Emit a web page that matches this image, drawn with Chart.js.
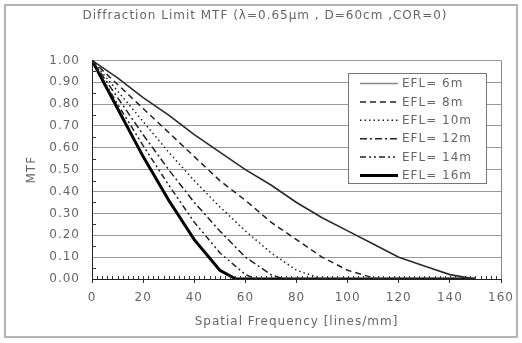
<!DOCTYPE html>
<html>
<head>
<meta charset="utf-8">
<script src="https://cdn.jsdelivr.net/npm/chart.js@4/dist/chart.umd.min.js"></script>
<style>
  html, body { margin: 0; padding: 0; background: #fff; }
  #wrap { width: 522px; height: 343px; }
</style>
</head>
<body>
<div id="wrap"><canvas id="mtfChart" width="522" height="343"></canvas></div>
<script>
// values, MTF vs spatial frequency (lines/mm)
const labels = ["EFL= 6m", "EFL= 8m", "EFL= 10m", "EFL= 12m", "EFL= 14m", "EFL= 16m"];

const freq6 = [0, 10, 20, 30, 40, 50, 60, 70, 80, 90, 100, 110, 120, 130, 140, 150];
const mtf6 = [1, 0.92, 0.83, 0.75, 0.66, 0.58, 0.50, 0.43, 0.35, 0.28, 0.22, 0.16, 0.10, 0.06, 0.02, 0];

const freq8 = [0, 10, 20, 30, 40, 50, 60, 70, 80, 90, 100, 110, 112.5, 150];
const mtf8 = [1, 0.89, 0.78, 0.67, 0.56, 0.45, 0.36, 0.26, 0.18, 0.10, 0.04, 0.005, 0, 0];

const freq10 = [0, 10, 20, 30, 40, 50, 60, 70, 80, 90, 150];
const mtf10 = [1, 0.86, 0.72, 0.58, 0.45, 0.33, 0.22, 0.12, 0.04, 0, 0];

const freq12 = [0, 10, 20, 30, 40, 50, 60, 70, 75, 150];
const mtf12 = [1, 0.83, 0.66, 0.50, 0.35, 0.22, 0.10, 0.02, 0, 0];

const freq14 = [0, 10, 20, 30, 40, 50, 60, 64.3, 150];
const mtf14 = [1, 0.80, 0.61, 0.43, 0.26, 0.12, 0.02, 0, 0];

const freq16 = [0, 10, 20, 30, 40, 50, 56.3, 150];
const mtf16 = [1, 0.78, 0.56, 0.36, 0.18, 0.04, 0, 0];

const xTicks = [0, 20, 40, 60, 80, 100, 120, 140, 160];

const textColor = "#666";
const fontFamily = "'DejaVu Sans', sans-serif";

function pts(xs, ys) {
  return xs.map((x, i) => ({ x: x, y: ys[i] }));
}

const styles = [
  { color: "#2a2a2a", width: 1.6, dash: [] },
  { color: "#222", width: 1.5, dash: [6, 4] },
  { color: "#222", width: 1.5, dash: [1.5, 3] },
  { color: "#222", width: 1.5, dash: [7, 3, 2, 3] },
  { color: "#222", width: 1.5, dash: [6, 3, 2, 3, 2, 3] },
  { color: "#000", width: 3, dash: [] },
];

const series = [
  pts(freq6, mtf6),
  pts(freq8, mtf8),
  pts(freq10, mtf10),
  pts(freq12, mtf12),
  pts(freq14, mtf14),
  pts(freq16, mtf16),
];

const datasets = series.map((d, i) => ({
  label: labels[i],
  data: d,
  borderColor: styles[i].color,
  borderWidth: styles[i].width,
  borderDash: styles[i].dash,
  pointRadius: 0,
  fill: false,
  tension: 0,
}));

// frame, plot border, minor ticks and boxed legend
const extras = {
  id: "extras",
  beforeUpdate(chart) {
    chart.ctx.letterSpacing = "1px";
  },
  beforeDraw(chart) {
    const ctx = chart.ctx;
    ctx.letterSpacing = "1px";
    ctx.save();
    ctx.strokeStyle = "#b4b4b4";
    ctx.lineWidth = 2;
    ctx.strokeRect(5, 5, 512, 332);
    ctx.restore();
  },
  afterDatasetsDraw(chart) {
    const ctx = chart.ctx;
    const area = chart.chartArea;
    const xs = chart.scales.x;
    const ys = chart.scales.y;
    ctx.save();
    ctx.strokeStyle = "#888";
    ctx.lineWidth = 1;
    ctx.beginPath();
    ctx.moveTo(Math.round(area.right) + 0.5, area.top);
    ctx.lineTo(Math.round(area.right) + 0.5, area.bottom);
    ctx.stroke();

    ctx.strokeStyle = "#333";
    ctx.beginPath();
    for (let v = 2; v < 160; v += 2) {
      const px = Math.round(xs.getPixelForValue(v)) + 0.5;
      ctx.moveTo(px, area.bottom);
      ctx.lineTo(px, area.bottom - 3);
    }
    for (let v = 0.05; v < 1; v += 0.1) {
      const py = Math.round(ys.getPixelForValue(v)) + 0.5;
      ctx.moveTo(area.left, py);
      ctx.lineTo(area.left + 4, py);
    }
    ctx.stroke();

    // legend box
    const bx = 348, by = 73, bw = 138, bh = 110;
    ctx.fillStyle = "#fff";
    ctx.fillRect(bx, by, bw, bh);
    ctx.strokeStyle = "#777";
    ctx.strokeRect(bx + 0.5, by + 0.5, bw, bh);
    ctx.font = "12px " + fontFamily;
    ctx.letterSpacing = "1px";
    ctx.textBaseline = "middle";
    ctx.textAlign = "left";
    chart.data.datasets.forEach((ds, i) => {
      const y = by + 10.5 + i * 18.4;
      ctx.strokeStyle = i === 0 ? "#888" : ds.borderColor;
      ctx.lineWidth = ds.borderWidth;
      ctx.setLineDash(ds.borderDash);
      ctx.beginPath();
      ctx.moveTo(360, y);
      ctx.lineTo(398, y);
      ctx.stroke();
      ctx.setLineDash([]);
      ctx.fillStyle = textColor;
      ctx.fillText(ds.label, 402, y + 0.5);
    });
    ctx.restore();
  },
};

new Chart("mtfChart", {
  type: "line",
  data: { datasets: datasets },
  options: {
    responsive: false,
    animation: false,
    events: [],
    layout: { padding: { left: 20, right: 12, top: 0, bottom: 10 } },
    plugins: {
      legend: { display: false },
      tooltip: { enabled: false },
      title: {
        display: true,
        text: "Diffraction Limit MTF (\u03bb=0.65\u03bcm , D=60cm ,COR=0)",
        color: textColor,
        font: { family: fontFamily, size: 12, weight: "normal" },
        padding: { top: 9, bottom: 37 },
      },
    },
    scales: {
      x: {
        type: "linear",
        min: 0,
        max: 160,
        afterBuildTicks(scale) {
          scale.ticks = xTicks.map((v) => ({ value: v }));
        },
        grid: {
          drawOnChartArea: false,
          drawTicks: true,
          tickLength: 4,
          color: "#333",
        },
        border: { color: "#222", width: 1 },
        ticks: {
          color: textColor,
          padding: 8,
          maxRotation: 0,
          font: { family: fontFamily, size: 12 },
        },
        title: {
          display: true,
          text: "Spatial Frequency [lines/mm]",
          color: textColor,
          font: { family: fontFamily, size: 12 },
          padding: { top: 4, bottom: 4 },
        },
        afterFit(scale) {
          scale.height = 54;
        },
      },
      y: {
        min: 0,
        max: 1,
        ticks: {
          stepSize: 0.1,
          color: textColor,
          padding: 12,
          font: { family: fontFamily, size: 12 },
          callback: (v) => v.toFixed(2),
        },
        grid: {
          color: "#999",
          lineWidth: 1,
          drawTicks: false,
        },
        border: { color: "#222", width: 1 },
        title: {
          display: true,
          text: "MTF",
          color: textColor,
          font: { family: fontFamily, size: 12 },
          padding: { top: 5, bottom: 0 },
        },
        afterFit(scale) {
          scale.width = 72;
        },
      },
    },
  },
  plugins: [extras],
});
</script>
</body>
</html>
